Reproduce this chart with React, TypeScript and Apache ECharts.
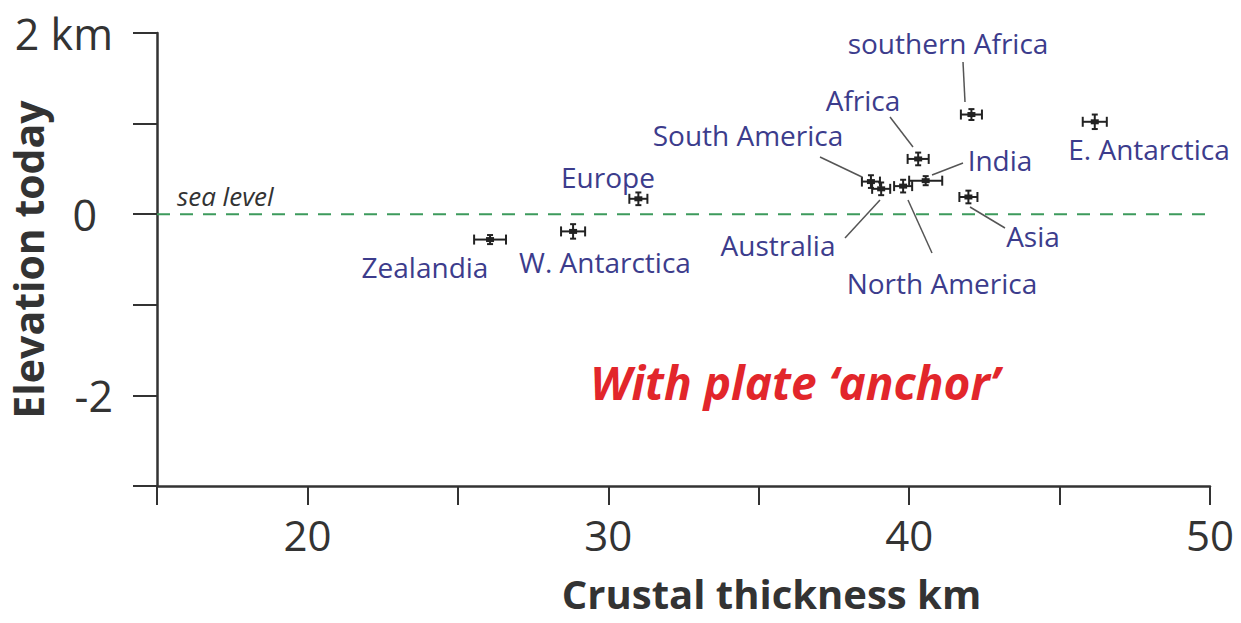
import React, { useEffect, useRef } from "react";
import * as echarts from "echarts";

// Data: [crustal thickness km, elevation km, x error km, y error km]
const regionNames = [
  "Zealandia",
  "W. Antarctica",
  "Europe",
  "southern Africa",
  "E. Antarctica",
  "Africa",
  "India",
  "South America",
  "Australia",
  "North America",
  "Asia",
];
const thickness = [26.07, 28.83, 31.0, 42.07, 46.17, 40.3, 40.55, 38.73, 39.07, 39.8, 41.97];
const elevation = [-0.28, -0.19, 0.17, 1.1, 1.02, 0.61, 0.37, 0.36, 0.28, 0.31, 0.19];
const thicknessErr = [0.53, 0.4, 0.3, 0.35, 0.4, 0.35, 0.55, 0.3, 0.3, 0.3, 0.3];
const elevationErr = [0.05, 0.08, 0.07, 0.06, 0.08, 0.07, 0.05, 0.07, 0.07, 0.07, 0.07];

const xTickLabels = [20, 30, 40, 50];
const yTickLabels: Record<number, string> = { 2: "2 km", 0: "0", [-2]: "-2" };
const seaLevel = [[15, 0], [50, 0]];

const LABEL_COLOR = "#3c3c8c";
const FONT = "'Open Sans', 'Noto Sans', sans-serif";

// annotation label positions (pixel) and leader lines
const annotations: { text: string; x: number; y: number }[] = [
  { text: "southern Africa", x: 948, y: 43 },
  { text: "Africa", x: 863, y: 100 },
  { text: "South America", x: 748, y: 135 },
  { text: "India", x: 1000, y: 160 },
  { text: "E. Antarctica", x: 1149, y: 149 },
  { text: "Europe", x: 608, y: 177 },
  { text: "Zealandia", x: 425, y: 267 },
  { text: "W. Antarctica", x: 605, y: 262 },
  { text: "Australia", x: 778, y: 245 },
  { text: "North America", x: 942, y: 283 },
  { text: "Asia", x: 1033, y: 236 },
];
const leaders: number[][] = [
  [963, 62, 965, 102],
  [890, 117, 913, 147],
  [820, 157, 862, 177],
  [963, 163, 932, 175],
  [970, 207, 1005, 228],
  [908, 200, 932, 253],
  [880, 200, 845, 238],
];

export default function App() {
  const ref = useRef<HTMLDivElement>(null);
  useEffect(() => {
    if (!ref.current) return;
    const chart = echarts.init(ref.current, null, { renderer: "svg" });
    const data = thickness.map((t, i) => [t, elevation[i], thicknessErr[i], elevationErr[i], regionNames[i]]);
    const stroke = "#222";
    const cap = 5;
    const option: any = {
      animation: false,
      backgroundColor: "#ffffff",
      grid: { left: 157, right: 31, top: 33, bottom: 137, containLabel: false, outerBoundsMode: "none" },
      xAxis: {
        type: "value",
        min: 15,
        max: 50,
        interval: 5,
        name: "Crustal thickness km",
        nameLocation: "middle",
        nameGap: 87,
        nameMoveOverlap: false,
        nameTextStyle: {
          fontFamily: FONT,
          fontSize: 40,
          fontWeight: "bold",
          color: "#333",
          padding: [0, 0, 0, 176],
        },
        axisLine: { show: true, onZero: false, lineStyle: { color: "#333", width: 2.5 } },
        axisTick: { show: true, length: 19, lineStyle: { color: "#333", width: 2 } },
        axisLabel: {
          fontFamily: FONT,
          fontSize: 42,
          color: "#333",
          margin: 27,
          formatter: (v: number) => (xTickLabels.includes(v) ? String(v) : ""),
        },
        splitLine: { show: false },
      },
      yAxis: {
        type: "value",
        min: -3,
        max: 2,
        interval: 1,
        name: "Elevation today",
        nameLocation: "middle",
        nameGap: 109,
        nameMoveOverlap: false,
        nameRotate: 90,
        nameTextStyle: { fontFamily: FONT, fontSize: 41, fontWeight: "bold", color: "#333" },
        axisLine: { show: true, onZero: false, lineStyle: { color: "#333", width: 2.5 } },
        axisTick: { show: true, length: 24, lineStyle: { color: "#333", width: 2 } },
        axisLabel: {
          fontFamily: FONT,
          fontSize: 43,
          color: "#333",
          margin: 44,
          formatter: (v: number) => (v === 0 ? "{z|0}" : yTickLabels[v] ?? ""),
          rich: { z: { fontFamily: FONT, fontSize: 43, color: "#333", padding: [0, 16, 0, 0] } },
        },
        splitLine: { show: false },
      },
      series: [
        {
          type: "line",
          data: seaLevel,
          symbol: "none",
          silent: true,
          lineStyle: { color: "#3d9a5c", width: 2, type: [13, 10] },
          z: 1,
        },
        {
          type: "custom",
          data,
          z: 3,
          renderItem: (params: any, api: any) => {
            const x = api.value(0);
            const y = api.value(1);
            const xe = api.value(2);
            const ye = api.value(3);
            const c = api.coord([x, y]);
            const l = api.coord([x - xe, y]);
            const r = api.coord([x + xe, y]);
            const t = api.coord([x, y + ye]);
            const b = api.coord([x, y - ye]);
            const st = { stroke, lineWidth: 2 };
            return {
              type: "group",
              children: [
                { type: "line", shape: { x1: l[0], y1: c[1], x2: r[0], y2: c[1] }, style: st },
                { type: "line", shape: { x1: l[0], y1: c[1] - cap, x2: l[0], y2: c[1] + cap }, style: st },
                { type: "line", shape: { x1: r[0], y1: c[1] - cap, x2: r[0], y2: c[1] + cap }, style: st },
                { type: "line", shape: { x1: c[0], y1: t[1], x2: c[0], y2: b[1] }, style: st },
                { type: "line", shape: { x1: c[0] - 3, y1: t[1], x2: c[0] + 3, y2: t[1] }, style: st },
                { type: "line", shape: { x1: c[0] - 3, y1: b[1], x2: c[0] + 3, y2: b[1] }, style: st },
                { type: "rect", shape: { x: c[0] - 4, y: c[1] - 2.5, width: 8, height: 5 }, style: { fill: stroke } },
              ],
            };
          },
        },
      ],
      graphic: [
        ...leaders.map((p) => ({
          type: "line",
          shape: { x1: p[0], y1: p[1], x2: p[2], y2: p[3] },
          style: { stroke: "#555", lineWidth: 1.5 },
          z: 5,
        })),
        ...annotations.map((a) => ({
          type: "text",
          x: a.x,
          y: a.y,
          style: {
            text: a.text,
            fontFamily: FONT,
            fontSize: 28,
            fill: LABEL_COLOR,
            align: "center",
            verticalAlign: "middle",
          },
          z: 6,
        })),
        {
          type: "text",
          x: 177,
          y: 196,
          style: {
            text: "sea level",
            fontFamily: FONT,
            fontSize: 26,
            fontStyle: "italic",
            fill: "#333",
            align: "left",
            verticalAlign: "middle",
          },
          z: 6,
        },
        {
          type: "text",
          x: 795,
          y: 382,
          style: {
            text: "With plate \u2018anchor\u2019",
            fontFamily: FONT,
            fontSize: 46,
            fontStyle: "italic",
            fontWeight: "bold",
            fill: "#e2262b",
            align: "center",
            verticalAlign: "middle",
          },
          z: 6,
        },
      ],
    };
    chart.setOption(option);
    return () => chart.dispose();
  }, []);
  return (
    <div
      ref={ref}
      style={{ position: "fixed", left: 0, top: 0, width: 1241, height: 623, background: "#fff" }}
    />
  );
}
